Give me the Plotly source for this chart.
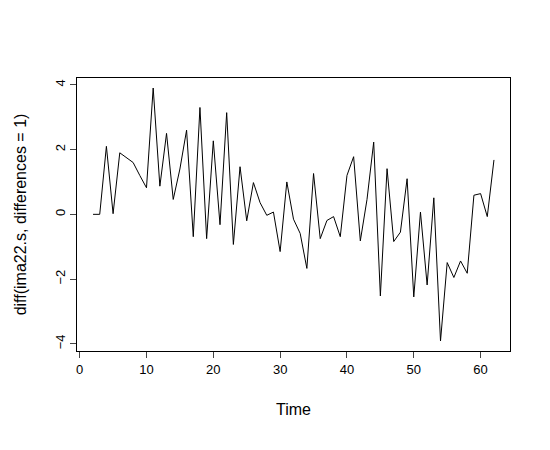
import plotly.graph_objects as go

time = list(range(2, 63))
values = [0, 0, 2.1, 0.02, 1.9, 1.75, 1.6, 1.2, 0.82, 3.9, 0.87, 2.5, 0.46, 1.4, 2.6,
          -0.69, 3.3, -0.75, 2.27, -0.32, 3.14, -0.93, 1.47, -0.2, 0.98, 0.36, -0.03, 0.07,
          -1.15, 1.0, -0.15, -0.59, -1.67, 1.26, -0.75, -0.19, -0.07, -0.69, 1.2, 1.78,
          -0.82, 0.46, 2.23, -2.52, 1.41, -0.84, -0.55, 1.1, -2.55, 0.07, -2.18, 0.51,
          -3.91, -1.49, -1.95, -1.44, -1.82, 0.59, 0.64, -0.07, 1.68]
xticks = [0, 10, 20, 30, 40, 50, 60]
yticks = [-4, -2, 0, 2, 4]

fig = go.Figure(go.Scatter(x=time, y=values, mode="lines",
                           line=dict(color="black", width=1)))
font = dict(family="Liberation Sans, Arial", size=13, color="black")
fig.update_layout(
    width=550, height=450, plot_bgcolor="white", paper_bgcolor="white",
    margin=dict(l=64, r=48, t=70, b=107), showlegend=False, font=font,
)
fig.update_xaxes(range=[-0.4, 64.4], tickvals=xticks, ticks="outside", ticklen=6,
                 showgrid=False, zeroline=False, showline=True, linecolor="black",
                 mirror=True, linewidth=1, title=dict(text="Time", standoff=28))
fig.update_yaxes(range=[-4.22, 4.21], tickvals=yticks, ticks="outside", ticklen=6,
                 tickangle=-90, showgrid=False, zeroline=False, showline=True,
                 linecolor="black", mirror=True, linewidth=1,
                 title=dict(text="diff(ima22.s, differences = 1)", standoff=22))
fig.write_html("out.html")
